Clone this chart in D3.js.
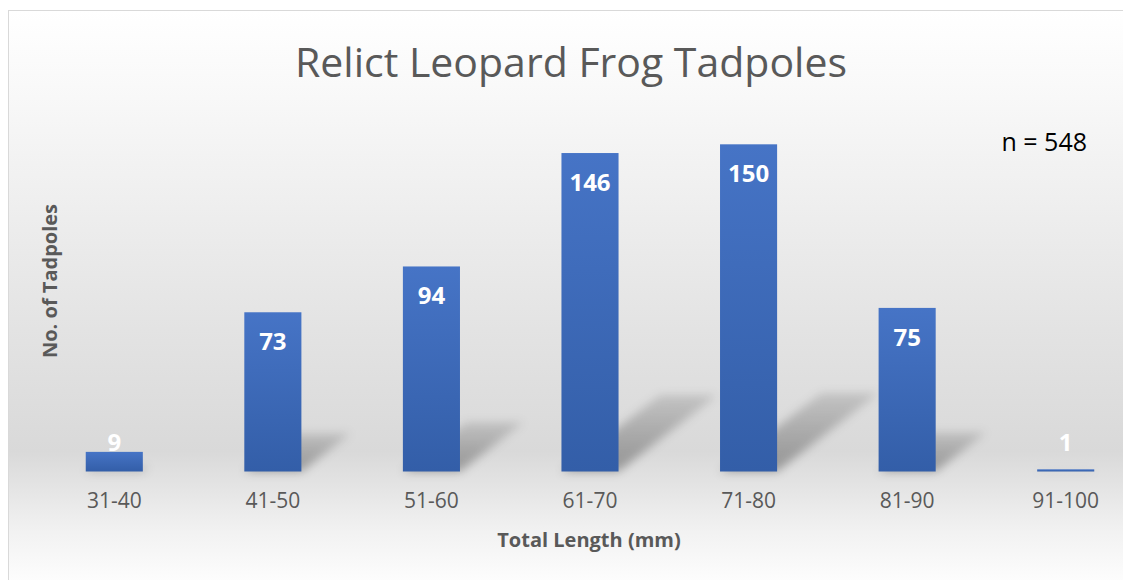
<!DOCTYPE html>
<html>
<head>
<meta charset="utf-8">
<script src="https://cdn.jsdelivr.net/npm/d3@7"></script>
<style>
  html, body { margin: 0; padding: 0; background: #fff; }
  svg { display: block; font-family: "Open Sans", sans-serif; }
</style>
</head>
<body>
<svg width="1123" height="580"></svg>
<script>
var categories = ["31-40", "41-50", "51-60", "61-70", "71-80", "81-90", "91-100"],
    counts = [9, 73, 94, 146, 150, 75, 1],
    sampleNote = "n = 548";

var svg = d3.select("svg"),
    width = +svg.attr("width"),
    height = +svg.attr("height");

var defs = svg.append("defs");

var bg = defs.append("linearGradient")
    .attr("id", "bg")
    .attr("x1", 0).attr("y1", 0).attr("x2", 0).attr("y2", 1);
bg.append("stop").attr("offset", "0%").attr("stop-color", "#ffffff");
bg.append("stop").attr("offset", "15%").attr("stop-color", "#f8f8f8");
bg.append("stop").attr("offset", "55%").attr("stop-color", "#e3e3e3");
bg.append("stop").attr("offset", "76%").attr("stop-color", "#d9d9d9");
bg.append("stop").attr("offset", "90%").attr("stop-color", "#f2f2f2");
bg.append("stop").attr("offset", "100%").attr("stop-color", "#ffffff");

var barFill = defs.append("linearGradient")
    .attr("id", "bar")
    .attr("x1", 0).attr("y1", 0).attr("x2", 0).attr("y2", 1);
barFill.append("stop").attr("offset", "0%").attr("stop-color", "#4674c6");
barFill.append("stop").attr("offset", "100%").attr("stop-color", "#335ea8");

var shadowFill = defs.append("linearGradient")
    .attr("id", "shade")
    .attr("x1", 0).attr("y1", 1).attr("x2", 0).attr("y2", 0);
shadowFill.append("stop").attr("offset", "0%").attr("stop-color", "#000").attr("stop-opacity", 0.32);
shadowFill.append("stop").attr("offset", "100%").attr("stop-color", "#000").attr("stop-opacity", 0.12);

defs.append("filter")
    .attr("id", "blur")
    .attr("x", "-30%").attr("y", "-30%").attr("width", "160%").attr("height", "160%")
  .append("feGaussianBlur")
    .attr("stdDeviation", 5);

// chart frame
svg.append("rect")
    .attr("x", 8.5).attr("y", 10.5)
    .attr("width", 1126).attr("height", 580)
    .attr("fill", "url(#bg)")
    .attr("stroke", "#d9d9d9");

var x = d3.scaleBand()
    .domain(categories)
    .range([35, 1145])
    .paddingInner(0.64)
    .paddingOuter(0.32);

var y = d3.scaleLinear()
    .domain([0, 160])
    .range([471.5, 122.5]);

var data = categories.map(function(c, i) { return {cat: c, v: counts[i]}; });

// perspective shadows
svg.append("g")
    .attr("filter", "url(#blur)")
  .selectAll("path")
  .data(data)
  .enter().append("path")
    .attr("fill", "url(#shade)")
    .attr("d", function(d) {
      var x0 = x(d.cat), x1 = x0 + x.bandwidth(),
          b = y(0), h = y(0) - y(d.v),
          dx = h * 0.31, dy = h * 0.24;
      return "M" + x0 + "," + b + "L" + x1 + "," + b +
          "L" + (x1 + dx) + "," + (b - dy) + "L" + (x0 + dx) + "," + (b - dy) + "Z";
    });

svg.append("g")
  .selectAll("rect")
  .data(data)
  .enter().append("rect")
    .attr("x", function(d) { return x(d.cat); })
    .attr("y", function(d) { return y(d.v); })
    .attr("width", x.bandwidth())
    .attr("height", function(d) { return y(0) - y(d.v); })
    .attr("fill", "url(#bar)");

svg.append("g")
  .selectAll("text")
  .data(data)
  .enter().append("text")
    .attr("x", function(d) { return x(d.cat) + x.bandwidth() / 2; })
    .attr("y", function(d) { return Math.min(y(d.v) + 38, 451); })
    .attr("text-anchor", "middle")
    .attr("fill", "#fff")
    .attr("font-weight", "bold")
    .attr("font-size", "24px")
    .text(function(d) { return d.v; });

var xAxis = svg.append("g")
    .attr("transform", "translate(0," + y(0) + ")")
    .call(d3.axisBottom(x).tickSize(0).tickPadding(22));
xAxis.select(".domain").remove();
xAxis.selectAll("text")
    .attr("fill", "#595959")
    .attr("font-family", "Open Sans")
    .attr("font-size", "21px");

svg.append("text")
    .attr("x", 571).attr("y", 77)
    .attr("text-anchor", "middle")
    .attr("fill", "#595959")
    .attr("font-size", "41px")
    .text("Relict Leopard Frog Tadpoles");

svg.append("text")
    .attr("x", 589).attr("y", 547)
    .attr("text-anchor", "middle")
    .attr("fill", "#595959")
    .attr("font-weight", "bold")
    .attr("font-size", "20px")
    .text("Total Length (mm)");

svg.append("text")
    .attr("transform", "translate(57,281) rotate(-90)")
    .attr("text-anchor", "middle")
    .attr("fill", "#595959")
    .attr("font-weight", "bold")
    .attr("font-size", "20px")
    .text("No. of Tadpoles");

svg.append("text")
    .attr("x", 1087).attr("y", 151)
    .attr("text-anchor", "end")
    .attr("fill", "#000")
    .attr("font-size", "25px")
    .text(sampleNote);
</script>
</body>
</html>
